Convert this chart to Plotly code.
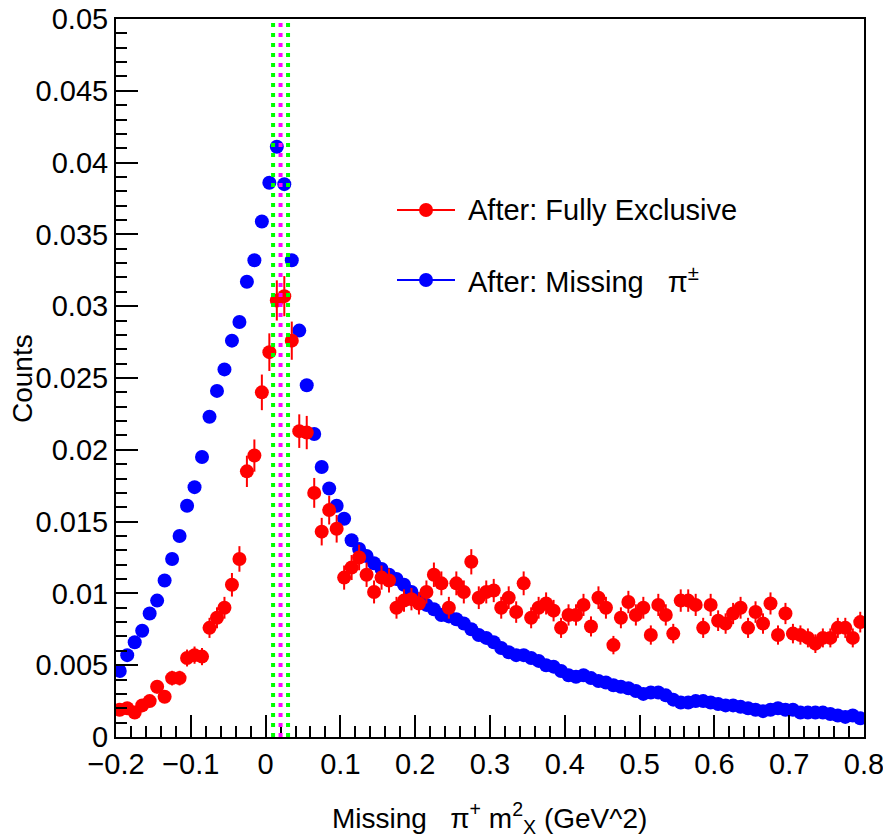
import numpy as np
import plotly.graph_objects as go

# ---------------- data ----------------
bin_low = -0.2
bin_width = 0.01
n_bins = 100

blue_missing_pi = [
    0.0046, 0.0057, 0.0066, 0.0074, 0.0086, 0.0095, 0.0109, 0.0124, 0.0140, 0.0161,
    0.0174, 0.0195, 0.0223, 0.0241, 0.0256, 0.0276, 0.0289, 0.0317, 0.0332, 0.0359,
    0.0386, 0.0411, 0.0385, 0.0332, 0.0283, 0.0245, 0.0211, 0.0188, 0.0173, 0.0161,
    0.0152, 0.0137, 0.0131, 0.0126, 0.0121, 0.0117, 0.0113, 0.0110, 0.0106, 0.0101,
    0.0096, 0.0092, 0.0089, 0.0085, 0.0084, 0.0082, 0.0079, 0.0075, 0.0071, 0.0069,
    0.0066, 0.0062, 0.0059, 0.0057, 0.0057, 0.0055, 0.0053, 0.0050, 0.0049, 0.0046,
    0.0043, 0.0042, 0.0043, 0.0041, 0.0039, 0.0038, 0.0036, 0.0035, 0.0034, 0.0032,
    0.0030, 0.0031, 0.0031, 0.0029, 0.0026, 0.0024, 0.0024, 0.0025, 0.0025, 0.0024,
    0.0023, 0.0022, 0.0022, 0.0021, 0.0020, 0.0019, 0.0018, 0.0019, 0.0020, 0.0019,
    0.0019, 0.0017, 0.0017, 0.0017, 0.0017, 0.0016, 0.0015, 0.0014, 0.0015, 0.0013,
]

red_fully_exclusive = [
    0.0019, 0.0020, 0.0017, 0.0022, 0.0025, 0.0035, 0.0028, 0.0041, 0.0041, 0.0055,
    0.0057, 0.0056, 0.0076, 0.0083, 0.0090, 0.0106, 0.0124, 0.0185, 0.0196, 0.0240,
    0.0268, 0.0304, 0.0307, 0.0276, 0.0213, 0.0212, 0.0170, 0.0143, 0.0158, 0.0145,
    0.0111, 0.0118, 0.0125, 0.0113, 0.0101, 0.0111, 0.0109, 0.0090, 0.0095, 0.0096,
    0.0093, 0.0101, 0.0113, 0.0107, 0.0090, 0.0107, 0.0101, 0.0122, 0.0097, 0.0101,
    0.0102, 0.0090, 0.0097, 0.0087, 0.0107, 0.0083, 0.0090, 0.0093, 0.0088, 0.0076,
    0.0085, 0.0085, 0.0092, 0.0077, 0.0097, 0.0090, 0.0064, 0.0083, 0.0094, 0.0085,
    0.0090, 0.0071, 0.0092, 0.0085, 0.0072, 0.0095, 0.0095, 0.0092, 0.0076, 0.0092,
    0.0081, 0.0079, 0.0086, 0.0090, 0.0076, 0.0087, 0.0079, 0.0093, 0.0071, 0.0086,
    0.0072, 0.0071, 0.0069, 0.0065, 0.0069, 0.0069, 0.0076, 0.0076, 0.0069, 0.0080,
]

red_errors = [
    0.00035, 0.00036, 0.00033, 0.00038, 0.00040, 0.00047, 0.00042, 0.00051, 0.00051, 0.00059,
    0.00060, 0.00060, 0.00070, 0.00073, 0.00076, 0.00082, 0.00089, 0.00109, 0.00112, 0.00124,
    0.00131, 0.00140, 0.00140, 0.00133, 0.00117, 0.00116, 0.00104, 0.00096, 0.00100, 0.00096,
    0.00084, 0.00087, 0.00089, 0.00085, 0.00080, 0.00084, 0.00084, 0.00076, 0.00078, 0.00078,
    0.00077, 0.00080, 0.00085, 0.00083, 0.00076, 0.00083, 0.00080, 0.00088, 0.00079, 0.00080,
    0.00081, 0.00076, 0.00079, 0.00075, 0.00083, 0.00073, 0.00076, 0.00077, 0.00075, 0.00070,
    0.00074, 0.00074, 0.00077, 0.00070, 0.00079, 0.00076, 0.00064, 0.00073, 0.00078, 0.00074,
    0.00076, 0.00067, 0.00077, 0.00074, 0.00068, 0.00078, 0.00078, 0.00077, 0.00070, 0.00077,
    0.00072, 0.00071, 0.00074, 0.00076, 0.00070, 0.00075, 0.00071, 0.00077, 0.00067, 0.00074,
    0.00068, 0.00067, 0.00066, 0.00065, 0.00066, 0.00066, 0.00070, 0.00070, 0.00066, 0.00072,
]

cut_lines_green = [0.01, 0.03]
cut_line_magenta = [0.02]

x_range = [-0.2, 0.8]
y_range = [0.0, 0.05]

legend_labels = ["After: Fully Exclusive", "After: Missing\u00a0\u00a0\u00a0π<sup>±</sup>"]
x_title = "Missing\u00a0\u00a0\u00a0π<sup>+</sup> m<sup>2</sup><sub>X</sub> (GeV^2)"
y_title = "Counts"

# ---------------- figure ----------------
x_centers = bin_low + bin_width * (np.arange(n_bins) + 0.5)

FONT = "Liberation Sans, Arial, Helvetica, sans-serif"
W, H = 883, 837
L, R, T, B = 116, 19, 19, 100
PW, PH = W - L - R, H - T - B


def px2paper_x(px):
    return (px - L) / PW


def px2paper_y(py):
    return (H - B - py) / PH


fig = go.Figure()

fig.add_trace(go.Scatter(
    x=x_centers, y=blue_missing_pi, mode="markers",
    marker=dict(color="#0000ff", size=14, line=dict(width=0)),
    showlegend=False,
))

fig.add_trace(go.Scatter(
    x=x_centers, y=red_fully_exclusive, mode="markers",
    marker=dict(color="#ff0000", size=14, line=dict(width=0)),
    error_y=dict(type="data", array=red_errors, visible=True,
                 color="#ff0000", thickness=2, width=0),
    showlegend=False,
))

shapes = []
for xv in cut_lines_green:
    shapes.append(dict(type="line", xref="x", yref="paper", x0=xv, x1=xv, y0=0, y1=1,
                       line=dict(color="#00ff00", width=4, dash="4px,6px"), layer="above"))
for xv in cut_line_magenta:
    shapes.append(dict(type="line", xref="x", yref="paper", x0=xv, x1=xv, y0=0, y1=1,
                       line=dict(color="#ff00ff", width=4, dash="4px,6px"), layer="above"))

# custom legend glyphs
annotations = []
legend_colors = ["#ff0000", "#0000ff"]
legend_rows = [210, 280]
for lab, col, ypx in zip(legend_labels, legend_colors, legend_rows):
    yp = px2paper_y(ypx)
    shapes.append(dict(type="line", xref="paper", yref="paper",
                       x0=px2paper_x(397), x1=px2paper_x(455), y0=yp, y1=yp,
                       line=dict(color=col, width=2)))
    shapes.append(dict(type="circle", xref="paper", yref="paper",
                       xsizemode="pixel", ysizemode="pixel",
                       xanchor=px2paper_x(426), yanchor=yp,
                       x0=-7, x1=7, y0=-7, y1=7,
                       fillcolor=col, line=dict(width=0)))
    annotations.append(dict(xref="paper", yref="paper", x=px2paper_x(466), y=yp,
                            text=lab, showarrow=False, xanchor="left", yanchor="middle",
                            font=dict(family=FONT, size=29, color="black")))

annotations.append(dict(xref="paper", yref="paper", x=px2paper_x(489), y=px2paper_y(818),
                        text=x_title, showarrow=False, xanchor="center", yanchor="middle",
                        font=dict(family=FONT, size=28, color="black")))
annotations.append(dict(xref="paper", yref="paper", x=px2paper_x(22), y=px2paper_y(379),
                        text=y_title, showarrow=False, textangle=-90,
                        xanchor="center", yanchor="middle",
                        font=dict(family=FONT, size=28, color="black")))

axis_common = dict(
    showgrid=False, zeroline=False, showline=True, linecolor="black", linewidth=2,
    mirror=True, ticks="inside", ticklen=22, tickwidth=1.5, tickcolor="black",
    tickfont=dict(family=FONT, size=29, color="black"),
    ticklabeloverflow="allow", automargin=False,
)

fig.update_layout(
    width=W, height=H, autosize=False,
    margin=dict(l=L, r=R, t=T, b=B, autoexpand=False),
    paper_bgcolor="white", plot_bgcolor="white",
    showlegend=False,
    shapes=shapes, annotations=annotations,
    xaxis=dict(range=x_range, tick0=-0.2, dtick=0.1,
               minor=dict(ticks="inside", ticklen=11, dtick=0.02, tickcolor="black", tickwidth=1.5),
               **axis_common),
    yaxis=dict(range=y_range, tick0=0, dtick=0.005,
               minor=dict(ticks="inside", ticklen=11, dtick=0.001, tickcolor="black", tickwidth=1.5),
               **axis_common),
)

fig.write_html("out.html",
               config={"displayModeBar": False},
               post_script="document.body.style.margin='0';document.body.style.overflow='hidden';")
